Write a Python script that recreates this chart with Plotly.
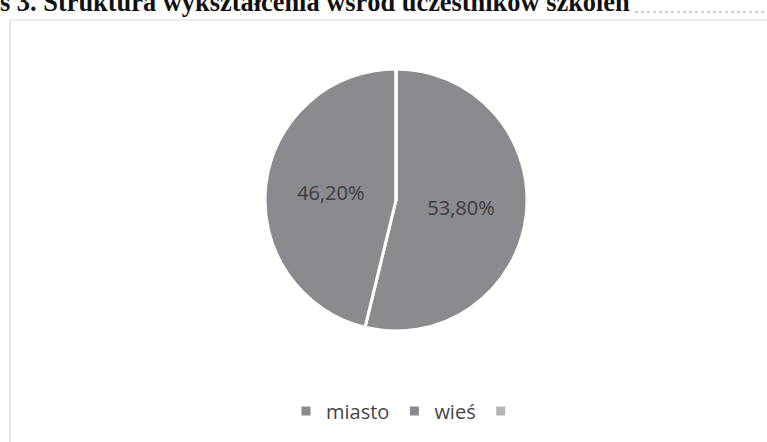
import plotly.graph_objects as go

labels = ["miasto", "wieś", " "]
values = [53.8, 46.2, 0]
slice_colors = ["#8b8a8f", "#8b8a8f", "#b4b4b6"]
title_text = "s 3. Struktura wykształcenia wśród uczestników szkoleń"

W, H = 767, 442
cx, cy, r = 396, 200, 131

fig = go.Figure()
fig.add_trace(go.Pie(
    labels=labels,
    values=values,
    sort=False,
    direction="clockwise",
    rotation=0,
    marker=dict(colors=slice_colors, line=dict(color="white", width=3)),
    texttemplate="%{value:.2f}%",
    textposition="inside",
    insidetextorientation="horizontal",
    textfont=dict(family="Open Sans", size=20, color="#3d3d3d"),
    domain=dict(x=[(cx - r) / W, (cx + r) / W], y=[1 - (cy + r) / H, 1 - (cy - r) / H]),
    hoverinfo="label+percent",
))

fig.update_layout(
    width=W, height=H,
    autosize=False,
    margin=dict(l=0, r=0, t=0, b=0),
    paper_bgcolor="white",
    plot_bgcolor="white",
    separators=",.",
    showlegend=True,
    legend=dict(
        orientation="h",
        x=286 / W, xanchor="left",
        y=1 - 411 / H, yanchor="middle",
        font=dict(family="Open Sans", size=20, color="#454545"),
        bgcolor="rgba(0,0,0,0)",
    ),
    annotations=[dict(
        text="<b>" + title_text + "</b>",
        xref="paper", yref="paper",
        x=-2 / W, xanchor="left",
        y=1 - 19 / H, yanchor="bottom",
        showarrow=False,
        font=dict(family="Liberation Serif", size=26.4, color="#111111"),
    )],
    shapes=[
        dict(type="line", xref="paper", yref="paper", x0=10 / W, x1=1, y0=1 - 20 / H, y1=1 - 20 / H,
             line=dict(color="#dadada", width=1)),
        dict(type="line", xref="paper", yref="paper", x0=10 / W, x1=10 / W, y0=0, y1=1 - 20 / H,
             line=dict(color="#cfcfcf", width=1)),
        dict(type="line", xref="paper", yref="paper", x0=635 / W, x1=1, y0=1 - 12 / H, y1=1 - 12 / H,
             line=dict(color="#a0a0a0", width=1, dash="dot")),
    ],
)

fig.write_html("out.html", config={"displayModeBar": False},
               post_script="document.body.style.margin='0';document.body.style.overflow='hidden';")
